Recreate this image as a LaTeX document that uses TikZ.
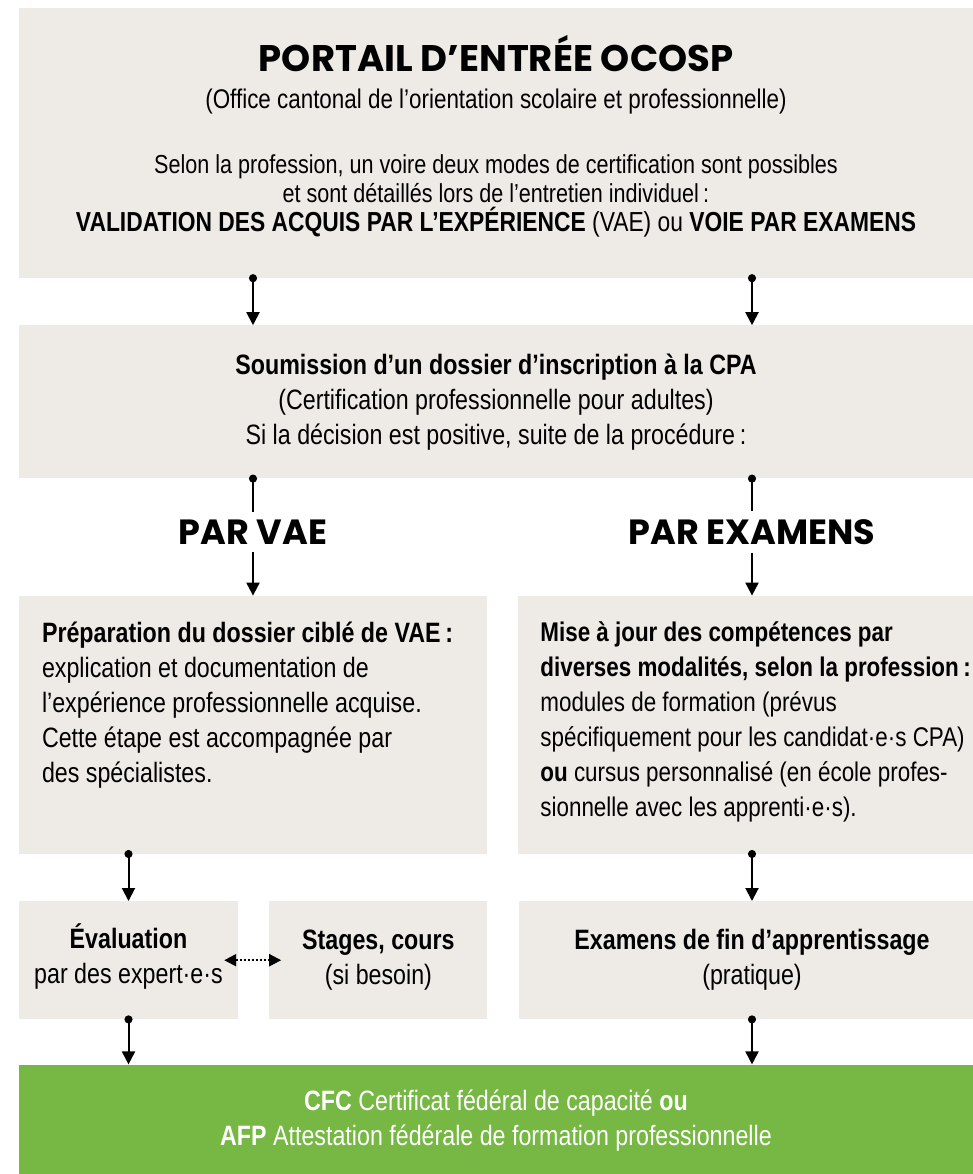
\documentclass[tikz,border=0pt]{standalone}
\usepackage{fontspec}
\setmainfont{Liberation Sans}[FakeStretch=0.83]
\newfontfamily\headfont{Poppins}
\usetikzlibrary{positioning,arrows.meta}
\definecolor{boxgrey}{HTML}{EEEAE6}
\definecolor{cpagreen}{HTML}{76B843}

\begin{document}
\begin{tikzpicture}[x=1pt,y=1pt,node distance=31pt,
  box/.style={fill=boxgrey,inner sep=0pt,align=center,font=\fontsize{28}{35}\selectfont},
  boxtext/.style={inner sep=0pt,align=left,anchor=north west,font=\fontsize{28}{35}\selectfont},
  label/.style={inner sep=0pt,align=center,font=\fontsize{28}{35}\selectfont},
  heading/.style={font=\headfont\bfseries\fontsize{35}{40}\selectfont,inner xsep=0pt,inner ysep=8pt},
  flow/.style={line width=2pt,{Circle[length=8pt]}-{Triangle[width=13pt,length=13pt]},shorten <=-4pt},
  link/.style={line width=2pt,{Circle[length=8pt]}-,shorten <=-4pt},
  dots/.style={line width=2pt,dotted,{Triangle[width=12pt,length=12pt]}-{Triangle[width=12pt,length=12pt]},shorten <=-14pt,shorten >=-12pt}]
  \useasboundingbox (0,0) rectangle (973,-1174);
  \node[box,minimum width=954pt,minimum height=270pt] (portal) at (496,-143) {};
  \node[label,font=\fontsize{26}{29}\selectfont] (portaltext) at ([yshift=7pt]portal.center)
    {{\headfont\bfseries\fontsize{37}{40}\selectfont PORTAIL D’ENTRÉE OCOSP}\\[8pt]
     {\fontsize{27}{29}\selectfont(Office cantonal de l’orientation scolaire et professionnelle)}\\[36pt]
     Selon la profession, un voire deux modes de certification sont possibles\\
     et sont détaillés lors de l’entretien individuel\,:\\
     {\fontsize{27.5}{29}\selectfont\textbf{VALIDATION DES ACQUIS PAR L’EXPÉRIENCE} (VAE) ou \textbf{VOIE PAR EXAMENS}}};
  \node[box,minimum width=954pt,minimum height=153pt,below=47pt of portal] (dossier)
    {\textbf{Soumission d’un dossier d’inscription à la CPA}\\
     (Certification professionnelle pour adultes)\\
     Si la décision est positive, suite de la procédure\,:};
  \node[heading] (parvae) at (253,-532) {PAR VAE};
  \node[heading] (parexam) at (752,-532) {PAR EXAMENS};
  \node[box,minimum width=468pt,minimum height=258pt,below=117pt of dossier.south west,anchor=north west] (prepvae) {};
  \node[box,minimum width=455pt,minimum height=258pt,right=of prepvae] (prepexam) {};
  \node[boxtext] (prepvaetext) at ([shift={(23pt,-26pt)}]prepvae.north west)
    {\textbf{Préparation du dossier ciblé de VAE\,:}\\
     explication et documentation de\\
     l’expérience professionnelle acquise.\\
     Cette étape est accompagnée par\\
     des spécialistes.};
  \node[boxtext,font=\fontsize{27}{35}\selectfont] (prepexamtext) at ([shift={(22pt,-26pt)}]prepexam.north west)
    {\textbf{Mise à jour des compétences par}\\
     \textbf{diverses modalités, selon la profession\,:}\\
     modules de formation (prévus\\
     spécifiquement pour les candidat·e·s CPA)\\
     \textbf{ou} cursus personnalisé (en école profes-\\
     sionnelle avec les apprenti·e·s).};
  \node[box,minimum width=219pt,minimum height=118pt,below=47pt of prepvae.south west,anchor=north west] (eval) {};
  \node[label] (evaltext) at ([yshift=4pt]eval.center) {\textbf{Évaluation}\\par des expert·e·s};
  \node[box,minimum width=218pt,minimum height=118pt,right=of eval] (stages)
    {\textbf{Stages, cours}\\(si besoin)};
  \node[box,minimum width=455pt,minimum height=118pt,right=of stages] (finexam) {};
  \node[label] (finexamtext) at (finexam.center -| parexam)
    {\textbf{Examens de fin d’apprentissage}\\(pratique)};
  \node[box,fill=cpagreen,text=white,minimum width=954pt,minimum height=111pt,below=45pt of eval.south west,anchor=north west] (diploma)
    {\textbf{CFC} Certificat fédéral de capacité \textbf{ou}\\
     \textbf{AFP} Attestation fédérale de formation professionnelle};
  \draw[flow] (portal.south -| parvae) -- (dossier.north -| parvae);
  \draw[flow] (portal.south -| parexam) -- (dossier.north -| parexam);
  \draw[link] (dossier.south -| parvae) -- (parvae.north);
  \draw[link] (dossier.south -| parexam) -- (parexam.north);
  \draw[-{Triangle[width=13pt,length=13pt]},line width=2pt] (parvae.south) -- (prepvae.north -| parvae);
  \draw[-{Triangle[width=13pt,length=13pt]},line width=2pt] (parexam.south) -- (prepexam.north -| parexam);
  \draw[flow] (prepvae.south -| eval) -- (eval.north);
  \draw[flow] (prepexam.south -| parexam) -- (finexam.north -| parexam);
  \draw[dots] (eval.east) -- (stages.west);
  \draw[flow] (eval.south) -- (diploma.north -| eval);
  \draw[flow] (finexam.south -| parexam) -- (diploma.north -| parexam);
\end{tikzpicture}
\end{document}
